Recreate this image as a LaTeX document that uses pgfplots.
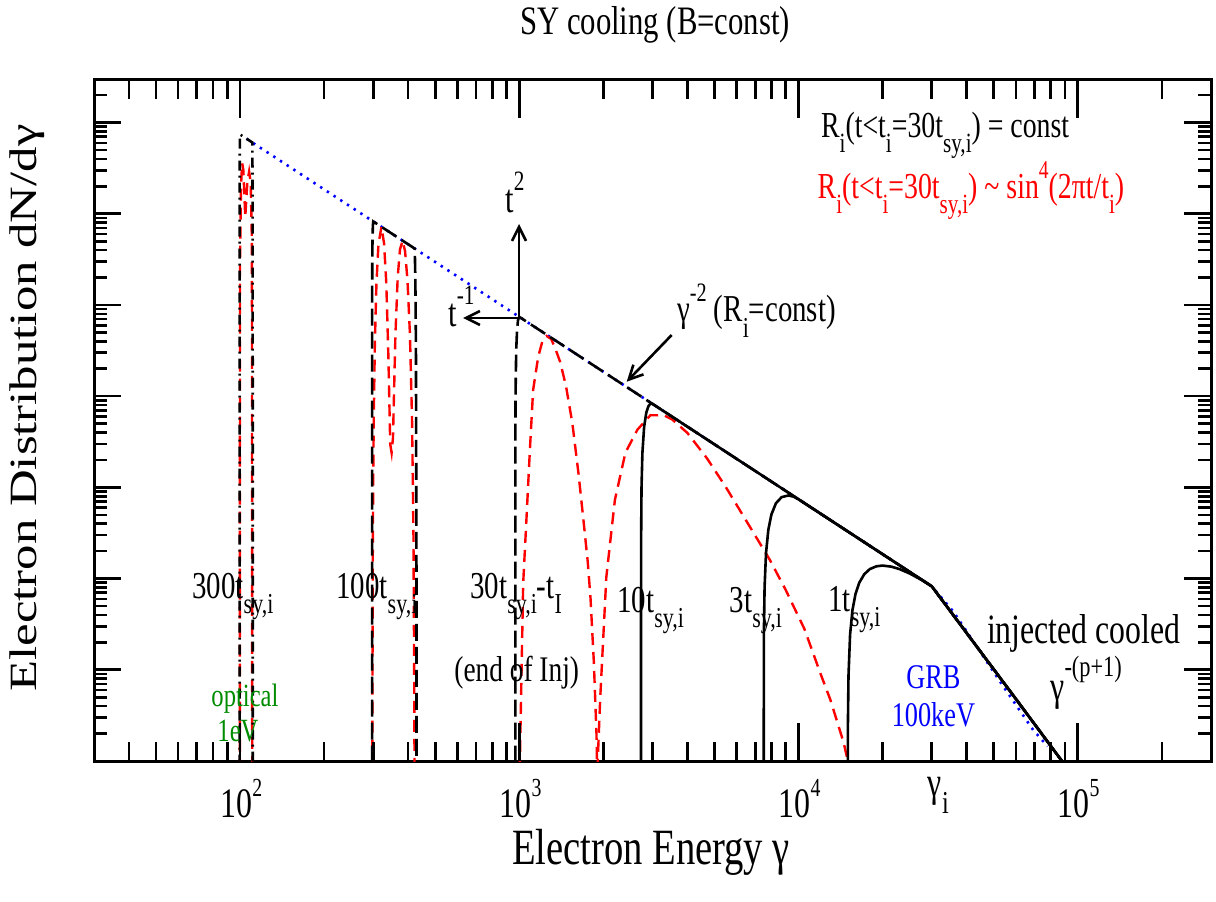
\documentclass[border=0pt]{standalone}
\usepackage{fontspec}
\setmainfont{Liberation Serif}[FakeStretch=0.76]
\newfontfamily\ylfont{Liberation Serif}[FakeStretch=1.316]
\usepackage{graphicx}
\usepackage{pgfplots}
\pgfplotsset{compat=1.18}
\usetikzlibrary{arrows.meta}
\definecolor{grn}{rgb}{0,0.55,0}
\newcommand\sub[1]{\raisebox{-0.42em}{\scalebox{0.76}{#1}}}
\newcommand\sups[1]{\raisebox{0.55em}{\scalebox{0.7}{#1}}}
\newcommand\tsup[1]{\raisebox{0.5em}{\scalebox{0.62}{#1}}}
\newcommand\fs[1]{\fontsize{#1}{#1}\selectfont}

\pgfplotstableread{
g y
15000 0.3
15030 2.6
15100 8.6
15300 24.4
15600 45.1
16000 67.9
16500 90.0
17200 111.8
18000 127.1
19000 136.4
20000 139.0
21500 135.2
23000 127.1
25000 113.8
27500 97.2
30000 82.3
40000 25.3
60000 4.8
90000 0.9
}\curveone
\pgfplotstableread{
g y
7500 0.3
7520 27.7
7560 81.0
7650 190.9
7800 345.9
8000 506.6
8300 669.6
8700 782.3
9200 815.9
9600 791.5
10000 741
30000 82.3
40000 25.3
60000 4.8
90000 0.9
}\curvethree
\pgfplotstableread{
g y
2727.3 0.3
2730 217.5
2740 983
2760 2372
2800 4630
2850 6596
2900 7763
2950 8271
3000 8233
30000 82.3
40000 25.3
60000 4.8
90000 0.9
}\curveten
\pgfplotstableread{
g y
967.7 0.3
968.5 3745
970 10932
975 31830
982 53600
990 68660
1000 74100
30000 82.3
40000 25.3
60000 4.8
90000 0.9
}\curvethirty
\pgfplotstableread{
g y
297.03 0.3
297.2 93130
297.5 246500
298 458700
299 736400
300 823300
422.5 415100
424.5 186700
426.5 37300
428.5 90
428.6 0.3
}\curvehundred
\pgfplotstableread{
g y
99.67 0.3
99.7 1.417e6
99.75 3.236e6
99.85 5.921e6
100 7.41e6
110.7 6.047e6
110.85 2.33e6
111.0 4.4e5
111.1 0.3
}\curvethreehundred
\pgfplotstableread{
g y
975 0.3
1005 1
1032.8 88.8
1062 477
1091.5 2572
1121 11700
1169 27100
1210 40000
1252 45700
1300 42500
1340 34500
1400 23900
1470 12940
1550 5000
1630 1410
1700 420
1760 150
1800 60
1850 12
1890 2
1910 0.3
}\redthirtyA
\pgfplotstableread{
g y
1880 0.3
1950 5.0
2050 104
2200 729
2400 2408
2650 4300
2950 6190
3300 6158
3530 5550
4000 3956
4700 2086
5500 1000
6500 430
7900 160
9000 75
10500 28
12000 9
13000 4.7
14500 1.6
15600 0.6
}\redthirtyB
\pgfplotstableread{
g y
297.3 0.3
299 309
301 4705
304 37910
308 171000
313 457100
320.9 719600
328 472900
334 175600
340 26470
345 3000
349 2400
353 3500
360 45080
367 201500
374 407000
382.2 507270
390 389500
398 185200
406 47060
413 5583
418 280
421 3.6
422 0.3
}\redhundred
\pgfplotstableread{
g y
99.8 0.3
100.0 3e5
100.8 2.0e6
101.8 3.6e6
102.8 3.0e6
104.4 9.2e5
106.2 2.2e6
107.8 2.9e6
109.2 2.2e6
110.3 5e5
110.6 0.3
}\redthreehundred
\pgfplotstableread{
g y
105.5 6.658e6
30000 82.3
35860 43.4
44700 15.8
52720 7.4
69220 2.19
78000 1.45
}\blueinj

\begin{document}
\begin{tikzpicture}
\useasboundingbox (0,0) rectangle (608pt,450.5pt);
\begin{axis}[at={(47pt,70pt)}, anchor=south west, scale only axis,
  width=558.5pt, height=340.5pt, xmode=log, ymode=log,
  xmin=30, xmax=3e5, ymin=1, ymax=2.93e7,
  xtick=\empty, ytick=\empty, axis line style={line width=1.5pt}]
\addplot[blue, line width=1.3pt, dash pattern=on 1.2pt off 2.8pt] table[x=g,y=y] {\blueinj};
\addplot[red, line width=1.2pt, dash pattern=on 6pt off 3.5pt] table[x=g,y=y] {\redthirtyA};
\addplot[red, line width=1.2pt, dash pattern=on 6pt off 3.5pt] table[x=g,y=y] {\redthirtyB};
\addplot[red, line width=1.2pt, dash pattern=on 6pt off 3.5pt] table[x=g,y=y] {\redhundred};
\addplot[red, line width=1.2pt, dash pattern=on 6pt off 3.5pt] table[x=g,y=y] {\redthreehundred};
\addplot[black, line width=1.3pt, dash pattern=on 5pt off 2.5pt on 1pt off 2.5pt] table[x=g,y=y] {\curvethreehundred};
\addplot[black, line width=1.3pt, dash pattern=on 8.5pt off 3pt] table[x=g,y=y] {\curvehundred};
\addplot[black, line width=1.3pt, dash pattern=on 8.5pt off 3pt] table[x=g,y=y] {\curvethirty};
\addplot[black, line width=1.3pt] table[x=g,y=y] {\curveten};
\addplot[black, line width=1.3pt] table[x=g,y=y] {\curvethree};
\addplot[black, line width=1.3pt] table[x=g,y=y] {\curveone};
\end{axis}
\begin{axis}[at={(47pt,70pt)}, anchor=south west, scale only axis,
  width=558.5pt, height=340.5pt, xmode=log, ymode=log,
  xmin=30, xmax=3e5, ymin=1, ymax=2.93e7,
  axis line style={draw=none}, ytick=\empty,
  xtick={100,1000,10000,100000}, xticklabels={},
  minor xtick={40,50,60,70,80,90,200,300,400,500,600,700,800,900,2000,3000,4000,5000,6000,7000,8000,9000,20000,30000,40000,50000,60000,70000,80000,90000,200000},
  major tick length=19pt, minor tick length=9.5pt,
  every tick/.style={black, line width=1.3pt}]
\end{axis}
\begin{axis}[at={(47pt,70pt)}, anchor=south west, scale only axis,
  width=558.5pt, height=340.5pt, xmode=log, ymode=log,
  xmin=30, xmax=3e5, ymin=1, ymax=2.93e7,
  axis line style={draw=none}, xtick=\empty,
  ytick={1,10,100,1000,10000,100000,1000000,10000000}, yticklabels={},
  minor ytick={2,3,4,5,6,7,8,9,20,30,40,50,60,70,80,90,200,300,400,500,600,700,800,900,2000,3000,4000,5000,6000,7000,8000,9000,20000,30000,40000,50000,60000,70000,80000,90000,200000,300000,400000,500000,600000,700000,800000,900000,2000000,3000000,4000000,5000000,6000000,7000000,8000000,9000000,20000000},
  major tick length=13.5pt, minor tick length=6.3pt,
  every tick/.style={black, line width=1.3pt}]
\end{axis}
\begin{scope}[x=0.5pt, y=-0.5pt, shift={(0pt,450.5pt)}]
% title and axis labels
\node[anchor=base, inner sep=0] at (655,35) {\fs{20.2pt}SY cooling (B=const)};
\node[anchor=base, inner sep=0] at (651,864) {\fs{25.4pt}Electron Energy γ};
\node[rotate=90, inner sep=0] at (27,408) {\ylfont\fs{19.3pt}Electron Distribution dN/dγ};
% tick labels
\foreach \px/\e in {240.3/2,519.5/3,798.6/4,1077.7/5}
  \node[anchor=base, inner sep=0] at (\px+1,817) {\fs{21pt}10\tsup{\e}};
\node[anchor=base west, inner sep=0] at (927.5,796) {\fs{21pt}γ\sub{i}};
% time labels
\node[anchor=base west, inner sep=0] at (192,598) {\fs{19pt}300t\sub{sy,i}};
\node[anchor=base west, inner sep=0] at (336,598) {\fs{19pt}100t\sub{sy,i}};
\node[anchor=base west, inner sep=0] at (470,598) {\fs{19pt}30t\sub{sy,i}-t\sub{I}};
\node[anchor=base west, inner sep=0] at (454,681.7) {\fs{18pt}(end of Inj)};
\node[anchor=base west, inner sep=0] at (617,612) {\fs{19pt}10t\sub{sy,i}};
\node[anchor=base west, inner sep=0] at (729.5,612) {\fs{19pt}3t\sub{sy,i}};
\node[anchor=base west, inner sep=0] at (828,611) {\fs{19pt}1t\sub{sy,i}};
\node[anchor=base west, inner sep=0] at (986.7,643.3) {\fs{20.9pt}injected cooled};
\node[anchor=base west, inner sep=0] at (1050,700) {\fs{21pt}γ\sups{-(p+1)}};
\node[anchor=base, inner sep=0, text=blue] at (933.4,688) {\fs{17.3pt}GRB};
\node[anchor=base, inner sep=0, text=blue] at (933.4,726.7) {\fs{17.3pt}100keV};
\node[anchor=base, inner sep=0, text=grn] at (245,706.7) {\fs{16.2pt}optical};
\node[anchor=base, inner sep=0, text=grn] at (238,741.7) {\fs{16.2pt}1eV};
% legend texts
\node[anchor=base west, inner sep=0] at (820.7,137.3) {\fs{18.3pt}R\sub{i}(t<t\sub{i}=30t\sub{sy,i}) = const};
\node[anchor=base west, inner sep=0, text=red] at (817.3,198.3) {\fs{18.3pt}R\sub{i}(t<t\sub{i}=30t\sub{sy,i}) \textasciitilde{} sin\sups{4}(2πt/t\sub{i})};
% arrows
\draw[line width=1.3pt, -{Straight Barb[length=7pt,width=7pt]}] (519,318) -- (519,224);
\draw[line width=1.3pt, -{Straight Barb[length=7pt,width=7pt]}] (519,318) -- (463,318);
\draw[line width=1.3pt, -{Straight Barb[length=7pt,width=7pt]}] (671.7,335) -- (626.7,381.7);
\node[anchor=base west, inner sep=0] at (505,213) {\fs{20pt}t\sups{2}};
\node[anchor=base west, inner sep=0] at (448,327) {\fs{20pt}t\sups{-1}};
\node[anchor=base west, inner sep=0] at (676.7,322) {\fs{19pt}γ\sups{-2} (R\sub{i}=const)};
\end{scope}
\end{tikzpicture}
\end{document}
